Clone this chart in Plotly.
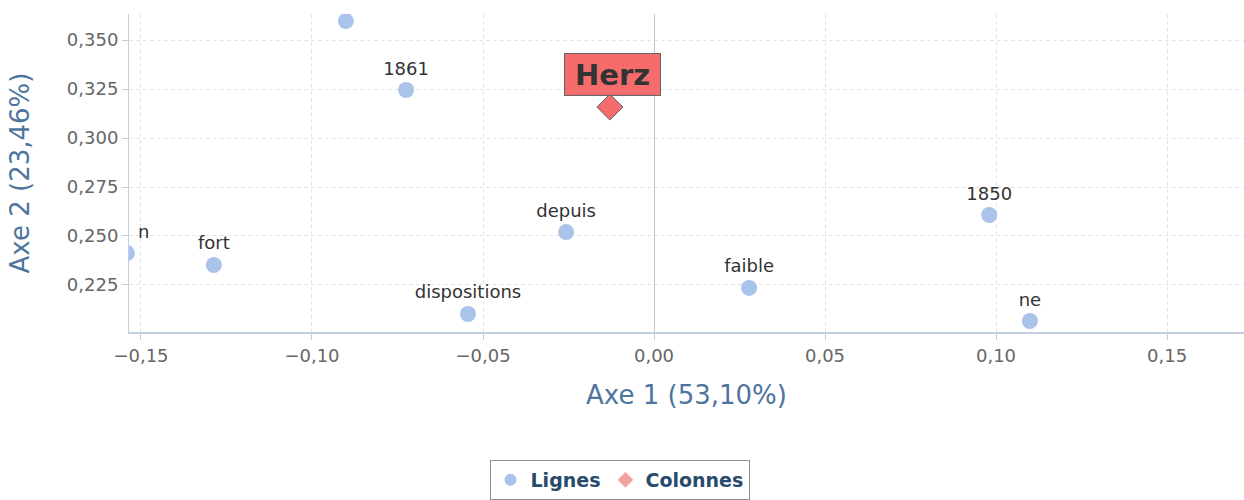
import plotly.graph_objects as go

# Data
ligne_labels = ["", "1861", "n", "fort", "dispositions", "depuis", "faible", "1850", "ne"]
ligne_x = [-0.0901, -0.0725, -0.1541, -0.1287, -0.0544, -0.0257, 0.0278, 0.0980, 0.1099]
ligne_y = [0.3597, 0.3245, 0.2413, 0.2352, 0.2102, 0.2520, 0.2235, 0.2607, 0.2066]
ligne_textpos = ["top center", "top center", "top right", "top center", "top center",
                 "top center", "top center", "top center", "top center"]

colonne_labels = ["Herz"]
colonne_x = [-0.0129]
colonne_y = [0.3158]

x_ticks = [-0.15, -0.10, -0.05, 0.00, 0.05, 0.10, 0.15]
y_ticks = [0.225, 0.250, 0.275, 0.300, 0.325, 0.350]

FONT = "DejaVu Sans"
BLUE = "#a9c3ea"
PINK = "#f3a2a2"
RED = "#f66b6b"

fig = go.Figure()

fig.add_trace(go.Scatter(
    x=ligne_x, y=ligne_y, mode="markers+text", text=ligne_labels,
    textposition=ligne_textpos, name="Lignes",
    marker=dict(size=16, color=BLUE, line=dict(width=0)),
    textfont=dict(family=FONT, size=18, color="#333333"),
    showlegend=True, cliponaxis=True,
))

fig.add_trace(go.Scatter(
    x=colonne_x, y=colonne_y, mode="markers", name="Colonnes",
    marker=dict(size=20, symbol="diamond", color=RED, line=dict(width=1, color="#666666")),
    showlegend=False, cliponaxis=True,
))
# legend entry for Colonnes (pale as in the legend)
fig.add_trace(go.Scatter(
    x=[None], y=[None], mode="markers", name="Colonnes",
    marker=dict(size=12, symbol="diamond", color=PINK),
))

for lx, ly, lt in zip(colonne_x, colonne_y, colonne_labels):
    fig.add_annotation(
        x=lx, y=ly, text="<b>" + lt + "</b>", showarrow=False,
        yshift=33, xshift=3, width=89, height=35,
        font=dict(family=FONT, size=29, color="#333333"),
        bgcolor=RED, bordercolor="#666666", borderwidth=1, borderpad=3,
    )

GRID = "#e1e5ea"
fig.update_layout(
    width=1244, height=500,
    margin=dict(l=129, r=0, t=14, b=168),
    paper_bgcolor="white", plot_bgcolor="white",
    separators=", ",
    font=dict(family=FONT),
    showlegend=True,
    legend=dict(
        orientation="h", xref="container", yref="container",
        x=0.498, xanchor="center", y=0.08, yanchor="top",
        bordercolor="#909090", borderwidth=1, bgcolor="white",
        font=dict(family=FONT, size=19, color="#274b6d", weight="bold"),
        itemsizing="constant", itemwidth=30,
    ),
    xaxis=dict(
        range=[-0.1535, 0.1725], tickvals=x_ticks, tickformat=".2f",
        showgrid=True, gridcolor=GRID, griddash="4px,3px", gridwidth=1,
        zeroline=True, zerolinecolor="#c0c4c8", zerolinewidth=1,
        showline=True, linecolor="#c0d0e0", linewidth=2,
        ticks="outside", ticklen=6, tickcolor="#c0d0e0",
        tickfont=dict(family=FONT, size=18, color="#666666"),
        title=dict(text="Axe 1 (53,10%)", standoff=21,
                   font=dict(family=FONT, size=26, color="#4d759e")),
    ),
    yaxis=dict(
        range=[0.2010, 0.3633], tickvals=y_ticks, tickformat=".3f",
        showgrid=True, gridcolor=GRID, griddash="4px,3px", gridwidth=1,
        zeroline=False,
        showline=True, linecolor="#c0d0e0", linewidth=1,
        ticks="outside", ticklen=6, tickcolor="#c0d0e0",
        tickfont=dict(family=FONT, size=18, color="#666666"),
        title=dict(text="Axe 2 (23,46%)", standoff=29,
                   font=dict(family=FONT, size=26, color="#4d759e")),
    ),
)

fig.write_html("out.html", config={"displayModeBar": False},
               post_script="document.body.style.margin='0';")
